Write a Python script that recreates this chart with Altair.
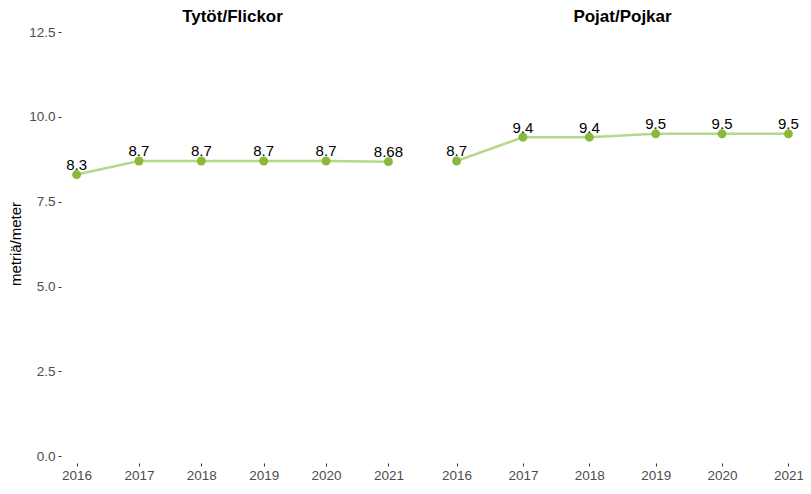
import altair as alt
import pandas as pd

years = [2016, 2017, 2018, 2019, 2020, 2021]
girls = [8.3, 8.7, 8.7, 8.7, 8.7, 8.68]
girls_labels = ["8.3", "8.7", "8.7", "8.7", "8.7", "8.68"]
boys = [8.7, 9.4, 9.4, 9.5, 9.5, 9.5]
boys_labels = ["8.7", "9.4", "9.4", "9.5", "9.5", "9.5"]
panel_titles = ["Tytöt/Flickor", "Pojat/Pojkar"]
y_title = "metriä/meter"
y_ticks = [0.0, 2.5, 5.0, 7.5, 10.0, 12.5]

LINE = "#b6d88a"
POINT = "#89b83a"
FONT = "Liberation Sans"

def panel(vals, labels, title, width, show_y):
    df = pd.DataFrame({"year": years, "value": vals, "label": labels})
    x = alt.X("year:Q", scale=alt.Scale(domain=[2015.75, 2021.25], nice=False, zero=False),
              axis=alt.Axis(values=years, format="d", title=None, grid=False, domain=False,
                            tickSize=3, tickColor="#333333", labelPadding=2,
                            labelFontSize=13.5, labelColor="#4d4d4d", labelFont=FONT))
    if show_y:
        yaxis = alt.Axis(values=y_ticks, format=".1f", title=y_title, grid=False, domain=False,
                         tickSize=3, tickColor="#333333", labelPadding=3, labelFontSize=13.5,
                         labelColor="#4d4d4d", labelFont=FONT, titleFont=FONT,
                         titleFontSize=15, titleFontWeight="normal", titleColor="black",
                         titlePadding=5)
    else:
        yaxis = None
    y = alt.Y("value:Q", scale=alt.Scale(domain=[-0.2, 12.736], nice=False, zero=False), axis=yaxis)
    base = alt.Chart(df).encode(x=x, y=y)
    line = base.mark_line(color=LINE, strokeWidth=2.5)
    pts = base.mark_circle(color=POINT, size=80, opacity=1)
    txt = base.mark_text(dy=-4.5, baseline="alphabetic", align="center", fontSize=15,
                         font=FONT, color="black").encode(text="label:N")
    return alt.layer(line, pts, txt).properties(
        width=width, height=439,
        title=alt.TitleParams(title, font=FONT, fontSize=17, fontWeight="bold",
                              color="black", anchor="middle", offset=-2))

left = panel(girls, girls_labels, panel_titles[0], 343, True)
right = panel(boys, boys_labels, panel_titles[1], 365, False)

chart = alt.hconcat(left, right, spacing=36).properties(
    padding={"left": 0, "top": 0, "right": -2, "bottom": 0}).configure(
    background="white").configure_view(strokeWidth=0, stroke=None)

chart.save("out.html", embed_options={"renderer": "svg", "actions": False})
